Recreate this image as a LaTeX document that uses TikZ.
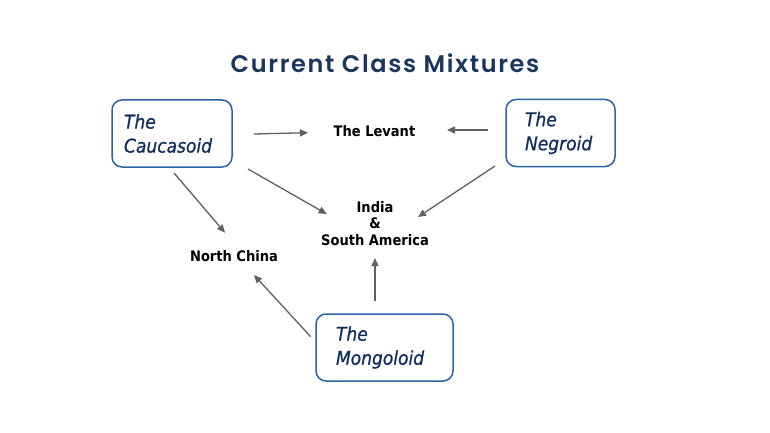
\documentclass[tikz,border=0pt]{standalone}
\usepackage{fontspec}
\setmainfont{DejaVu Sans}
\newfontfamily\titlefont{Poppins}[UprightFont=* SemiBold, LetterSpace=7]
\newfontfamily\boxfont{DejaVu Sans Condensed}
\newfontfamily\boxfontheavy{DejaVu Sans Condensed}[FakeBold=0.8]
\usetikzlibrary{arrows.meta,calc}
\definecolor{titlecol}{HTML}{1B365F}
\definecolor{boxtext}{HTML}{102E5E}
\definecolor{boxline}{HTML}{2C62A6}
\definecolor{arrcol}{HTML}{606060}
\tikzset{
  classbox/.style={draw=boxline, line width=1.5pt, rounded corners=10pt,
    text=boxtext, font=\boxfontheavy\itshape\fontsize{19}{24}\selectfont,
    align=left, minimum height=67pt, inner ysep=0pt},
  place/.style={font=\boxfont\bfseries\fontsize{14.5}{16.5}\selectfont,
    text=black, inner sep=0pt, align=center},
  arr/.style={draw=arrcol, line width=1.3pt,
    -{Triangle[length=8pt,width=7pt]}},
  titletext/.style={font=\titlefont\fontsize{24}{28}\selectfont, text=titlecol, inner sep=0pt}
}
\begin{document}
\begin{tikzpicture}[x=1pt,y=-1pt]
\fill[white] (0,0) rectangle (770,433);
\useasboundingbox (0,0) rectangle (770,433);
\node[titletext, anchor=base] (title) at (385,73) {Current Class Mixtures};
\node[classbox, minimum width=120pt, text width=96pt, inner xsep=12pt] (cauc) at (172,133.5) {The\\Caucasoid};
\node[classbox, minimum width=109pt, text width=71pt, inner xsep=19pt] (negr) at (560.5,133) {The\\Negroid};
\node[classbox, minimum width=137pt, text width=97pt, inner xsep=20pt] (mong) at (384.5,347.5) {The\\Mongoloid};
\node[place, anchor=base] (levant) at (374.5,136) {The Levant};
\node[place, anchor=base] (nchina) at (234,261.7) {North China};
\node[place] (india) at (375,223.5) {India\\\&\\South America};
\draw[arr] ($(cauc.center)+(82,0.5)$) -- ($(levant.base)+(-66.5,-3.3)$);
\draw[arr] ($(negr.center)+(-72.5,-3)$) -- ($(levant.base)+(72.5,-6)$);
\draw[arr] ($(cauc.center)+(2,39.5)$) -- ($(nchina.base)+(-9,-29)$);
\draw[arr] ($(cauc.center)+(76,35.5)$) -- ($(india.center)+(-48.3,-9.5)$);
\draw[arr] ($(negr.center)+(-65.5,33)$) -- ($(india.center)+(43,-6.5)$);
\draw[arr] ($(mong.center)+(-9.5,-46.8)$) -- ($(india.center)+(0,34.5)$);
\draw[arr] ($(mong.center)+(-73.8,-10.8)$) -- ($(nchina.base)+(20,13.3)$);
\end{tikzpicture}
\end{document}
